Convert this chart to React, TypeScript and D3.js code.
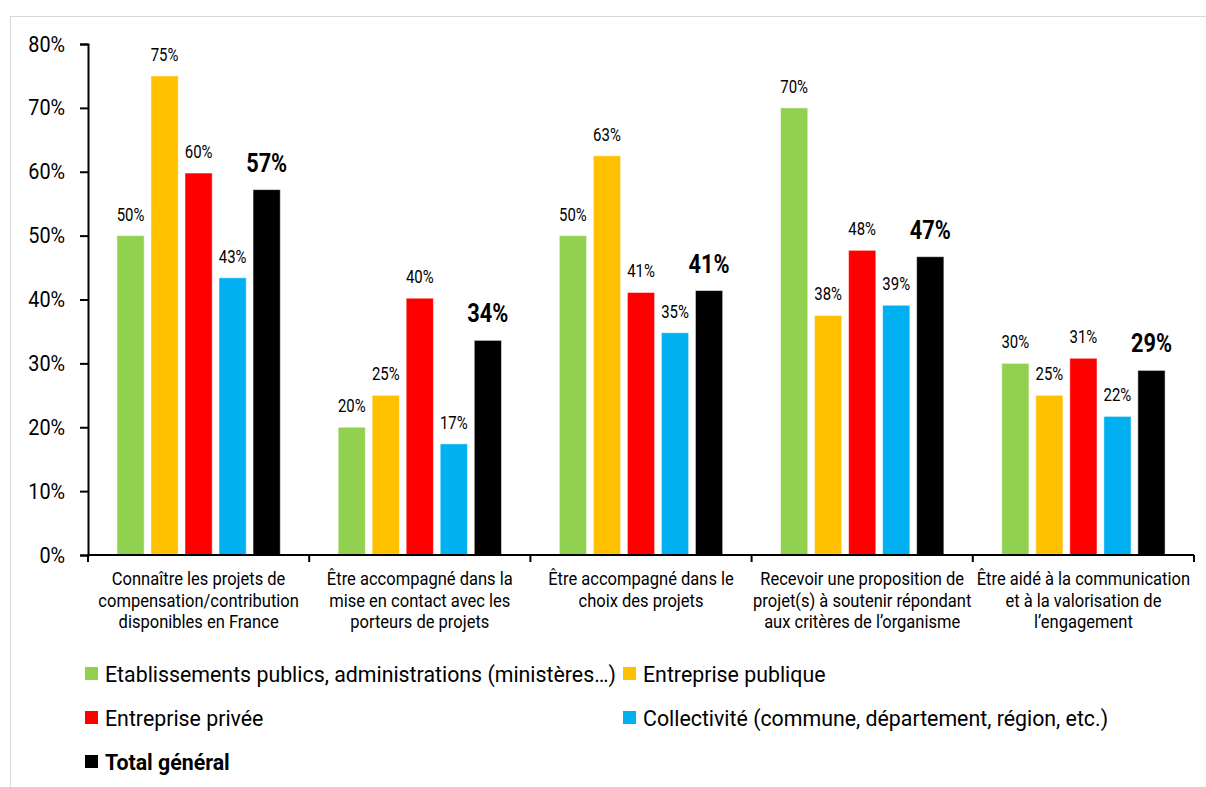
import { useEffect, useMemo, useRef } from 'react';
import * as d3 from 'd3';

const WIDTH = 1206;
const HEIGHT = 787;
const MARGIN = { top: 44, right: 12, bottom: 232, left: 88 };
const FONT = 'Roboto, sans-serif';

const categories = [
  'Connaître les projets de\ncompensation/contribution\ndisponibles en France',
  'Être accompagné dans la\nmise en contact avec les\nporteurs de projets',
  'Être accompagné dans le\nchoix des projets',
  'Recevoir une proposition de\nprojet(s) à soutenir répondant\naux critères de l’organisme',
  'Être aidé à la communication\net à la valorisation de\nl’engagement',
];

const seriesNames = [
  'Etablissements publics, administrations (ministères…)',
  'Entreprise publique',
  'Entreprise privée',
  'Collectivité (commune, département, région, etc.)',
  'Total général',
];
const seriesColors = ['#92D050', '#FFC000', '#FF0000', '#00B0F0', '#000000'];

const etablissements = [50, 20, 50, 70, 30];
const entreprisePublique = [75, 25, 62.5, 37.5, 25];
const entreprisePrivee = [59.8, 40.2, 41.1, 47.7, 30.8];
const collectivite = [43.4, 17.4, 34.8, 39.1, 21.7];
const totalGeneral = [57.2, 33.6, 41.4, 46.7, 28.9];

const yTicks = [0, 10, 20, 30, 40, 50, 60, 70, 80];

const seriesValues = [etablissements, entreprisePublique, entreprisePrivee, collectivite, totalGeneral];

type CTextProps = {
  x: number;
  y: number;
  size: number;
  sx: number;
  bold?: boolean;
  anchor?: 'start' | 'middle' | 'end';
  children: string;
};

// condensed-looking text: squeeze horizontally around its own anchor point
const CText = ({ x, y, size, sx, bold, anchor = 'middle', children }: CTextProps) => (
  <text
    transform={`translate(${x},${y}) scale(${sx},1)`}
    fontFamily={FONT}
    fontSize={size}
    fontWeight={bold ? 700 : 400}
    textAnchor={anchor}
    fill="#000"
  >
    {children}
  </text>
);

export default function App() {
  const yAxisRef = useRef<SVGGElement>(null);
  const xAxisRef = useRef<SVGGElement>(null);
  const boundsWidth = WIDTH - MARGIN.left - MARGIN.right;
  const boundsHeight = HEIGHT - MARGIN.top - MARGIN.bottom;

  const yScale = useMemo(
    () => d3.scaleLinear().domain([0, 80]).range([boundsHeight, 0]),
    [boundsHeight]
  );
  const x0 = useMemo(
    () => d3.scaleBand<string>().domain(categories).range([0, 1106]).paddingInner(0).paddingOuter(0),
    []
  );
  const x1 = useMemo(
    () =>
      d3
        .scaleBand<string>()
        .domain(seriesNames)
        .range([0, x0.bandwidth()])
        .paddingInner(0.2)
        .paddingOuter(0.85),
    [x0]
  );

  useEffect(() => {
    const yG = d3.select(yAxisRef.current);
    yG.selectAll('*').remove();
    yG.call(
      d3
        .axisLeft(yScale)
        .tickValues(yTicks)
        .tickSize(8)
        .tickFormat((d) => `${d}%`)
    );
    yG.select('.domain').attr('stroke', '#000').attr('stroke-width', 2);
    yG.selectAll('.tick line').attr('stroke', '#000').attr('stroke-width', 2);
    yG.selectAll('.tick text')
      .attr('font-family', FONT)
      .attr('font-size', 22)
      .attr('fill', '#000')
      .attr('x', -25.5)
      .attr('transform', 'scale(0.9,1)');

    const xG = d3.select(xAxisRef.current);
    xG.selectAll('*').remove();
    xG.append('line')
      .attr('x1', 0)
      .attr('x2', 1106)
      .attr('stroke', '#000')
      .attr('stroke-width', 2);
    const bounds = [0, ...categories.map((c) => (x0(c) || 0) + x0.bandwidth())];
    xG.selectAll('.xtick')
      .data(bounds)
      .join('line')
      .attr('class', 'xtick')
      .attr('x1', (d) => d)
      .attr('x2', (d) => d)
      .attr('y1', 0)
      .attr('y2', 7)
      .attr('stroke', '#000')
      .attr('stroke-width', 2);
  }, [yScale, x0]);

  const legendRows = [
    [0, 1],
    [2, 3],
    [4],
  ];

  return (
    <svg width={WIDTH} height={HEIGHT} style={{ display: 'block', position: 'absolute', left: 0, top: 0 }}>
      <rect x={10.5} y={16.5} width={1210} height={800} fill="#fff" stroke="#d9d9d9" strokeWidth={1} />
      <g transform={`translate(${MARGIN.left},${MARGIN.top})`}>
        {categories.map((cat, ci) => (
          <g key={cat} transform={`translate(${x0(cat)},0)`}>
            {seriesNames.map((s, si) => {
              const v = seriesValues[si][ci];
              const bx = x1(s) || 0;
              const bold = si === 4;
              return (
                <g key={s}>
                  <rect
                    x={bx}
                    y={yScale(v)}
                    width={x1.bandwidth()}
                    height={boundsHeight - yScale(v)}
                    fill={seriesColors[si]}
                    stroke="#fff"
                    strokeOpacity={0.5}
                    strokeWidth={1}
                  />
                  <CText
                    x={bx + x1.bandwidth() / 2}
                    y={yScale(v) - (bold ? 18 : 15)}
                    size={bold ? 25 : 18}
                    sx={bold ? 0.87 : 0.83}
                    bold={bold}
                  >
                    {`${Math.round(v)}%`}
                  </CText>
                </g>
              );
            })}
            {cat.split('\n').map((line, li) => (
              <CText key={li} x={x0.bandwidth() / 2} y={boundsHeight + 30 + li * 21.7} size={19} sx={0.87}>
                {line}
              </CText>
            ))}
          </g>
        ))}
        <g ref={xAxisRef} transform={`translate(0,${boundsHeight})`} />
        <g ref={yAxisRef} />
      </g>
      <g>
        {legendRows.map((row, ri) =>
          row.map((si, k) => {
            const lx = k === 0 ? 85 : 623;
            const ly = 682 + ri * 44;
            return (
              <g key={si}>
                <rect x={lx} y={ly - 15} width={13} height={13} fill={seriesColors[si]} />
                <CText x={lx + 20} y={ly} size={22} sx={0.97} anchor="start" bold={si === 4}>
                  {seriesNames[si]}
                </CText>
              </g>
            );
          })
        )}
      </g>
    </svg>
  );
}
